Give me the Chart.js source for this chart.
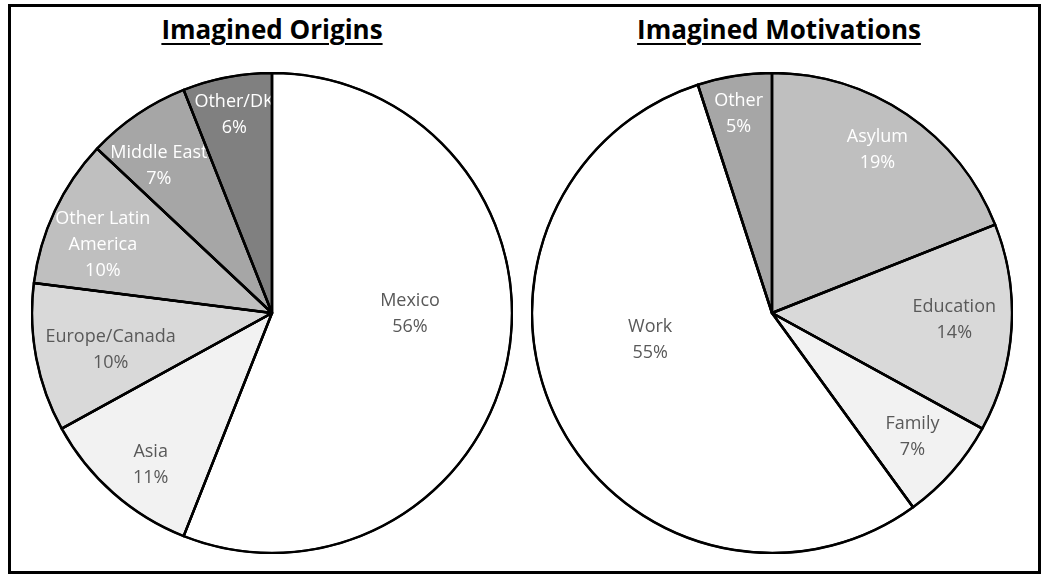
<!DOCTYPE html>
<html>
<head>
<meta charset="utf-8">
<title>Imagined Origins and Motivations</title>
<script src="https://cdn.jsdelivr.net/npm/chart.js@4"></script>
<style>
    body {
        margin: 0;
        background: #ffffff;
        font-family: "Open Sans", sans-serif;
    }
    #page {
        position: relative;
        width: 1041px;
        height: 574px;
        overflow: hidden;
    }
    #frame {
        position: absolute;
        left: 8px;
        top: 4px;
        width: 1033px;
        height: 570px;
        box-sizing: border-box;
        border: 3px solid #000000;
    }
    .pie-title {
        position: absolute;
        top: 11px;
        width: 400px;
        line-height: 36px;
        text-align: center;
        font-weight: bold;
        font-size: 26px;
        color: #000000;
        text-decoration: underline;
        text-decoration-thickness: 2px;
        text-underline-offset: 4px;
    }
    .pie-box {
        position: absolute;
        top: 72px;
        width: 482px;
        height: 482px;
    }
</style>
</head>
<body>
<div id="page">
    <div id="frame"></div>
    <div class="pie-title" style="left: 72px;">Imagined Origins</div>
    <div class="pie-title" style="left: 579px;">Imagined Motivations</div>
    <div class="pie-box" style="left: 31px;"><canvas id="originsCanvas" width="482" height="482"></canvas></div>
    <div class="pie-box" style="left: 531px;"><canvas id="motivesCanvas" width="482" height="482"></canvas></div>
</div>

<script>
// Imagined origins, clockwise from 12 o'clock
const origin_labels = ['Mexico', 'Asia', 'Europe/Canada', 'Other Latin America', 'Middle East', 'Other/DK'];
const origin_values = [56, 11, 10, 10, 7, 6];

// Imagined motivations, clockwise from 12 o'clock
const motive_labels = ['Asylum', 'Education', 'Family', 'Work', 'Other'];
const motive_values = [19, 14, 7, 55, 5];

// slice fills and label colours
const origin_fills = ['#ffffff', '#f2f2f2', '#d9d9d9', '#bfbfbf', '#a6a6a6', '#808080'];
const origin_text = ['#595959', '#595959', '#595959', '#ffffff', '#ffffff', '#ffffff'];
const motive_fills = ['#bfbfbf', '#d9d9d9', '#f2f2f2', '#ffffff', '#a6a6a6'];
const motive_text = ['#ffffff', '#595959', '#595959', '#595959', '#ffffff'];

// where each label sits: [fraction of radius, fraction along the slice]
const origin_place = [[0.575, 0.448], [0.81, 0.43], [0.69, 0.44], [0.76, 0.41], [0.775, 0.37], [0.84, 0.5]];
const motive_place = [[0.81, 0.48], [0.76, 0.47], [0.78, 0.5], [0.52, 0.573], [0.84, 0.47]];

// line breaks used inside the slices
const wrapped = {
    'Other Latin America': ['Other Latin', 'America']
};

// draws "name / value%" inside each slice
const sliceLabels = {
    id: 'sliceLabels',
    afterDatasetsDraw(chart, args, opts) {
        var ctx = chart.ctx;
        var meta = chart.getDatasetMeta(0);
        var values = chart.data.datasets[0].data;
        var names = chart.data.labels;

        ctx.save();
        ctx.font = '18px "Open Sans", sans-serif';
        ctx.textAlign = 'center';
        ctx.textBaseline = 'middle';

        meta.data.forEach(function (arc, i) {
            var p = arc.getProps(['x', 'y', 'startAngle', 'endAngle', 'outerRadius'], true);
            var place = opts.place[i];
            var angle = p.startAngle + place[1] * (p.endAngle - p.startAngle);
            var r = p.outerRadius * place[0];
            var cx = p.x + Math.cos(angle) * r;
            var cy = p.y + Math.sin(angle) * r;

            var lines = (wrapped[names[i]] || [names[i]]).concat([values[i] + '%']);
            var lineHeight = 26;
            var top = cy - (lines.length - 1) * lineHeight / 2;

            ctx.fillStyle = opts.colors[i];
            lines.forEach(function (text, k) {
                ctx.fillText(text, cx, top + k * lineHeight);
            });
        });

        // redraw the slice edges so the lines sit on top of the text
        meta.data.forEach(function (arc) {
            var p = arc.getProps(['x', 'y', 'startAngle', 'endAngle', 'outerRadius'], true);
            ctx.beginPath();
            ctx.moveTo(p.x, p.y);
            ctx.arc(p.x, p.y, p.outerRadius, p.startAngle, p.endAngle);
            ctx.closePath();
            ctx.lineWidth = 2.5;
            ctx.lineJoin = 'round';
            ctx.strokeStyle = '#000000';
            ctx.stroke();
        });
        ctx.restore();
    }
};

function createPie(canvasId, labels, values, fills, textColors, place) {
    var ctx = document.getElementById(canvasId).getContext('2d');

    return new Chart(ctx, {
        type: 'pie',
        data: {
            labels: labels,
            datasets: [{
                data: values,
                backgroundColor: fills,
                borderColor: '#000000',
                borderWidth: 2,
                borderAlign: 'center'
            }]
        },
        options: {
            responsive: false,
            animation: false,
            layout: { padding: 0 },
            plugins: {
                legend: { display: false },
                tooltip: { enabled: false },
                sliceLabels: { colors: textColors, place: place }
            }
        },
        plugins: [sliceLabels]
    });
}

createPie('originsCanvas', origin_labels, origin_values, origin_fills, origin_text, origin_place);
createPie('motivesCanvas', motive_labels, motive_values, motive_fills, motive_text, motive_place);
</script>
</body>
</html>
